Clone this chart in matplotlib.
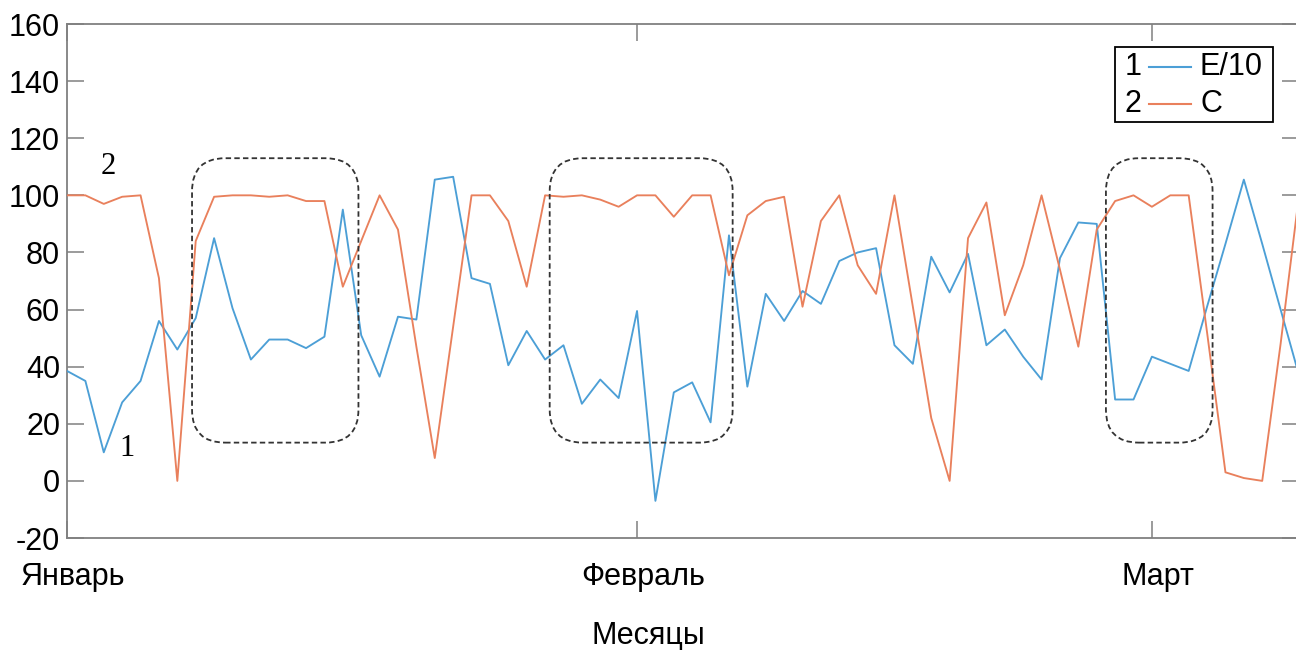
#!/usr/bin/env python
# -*- coding: utf-8 -*-
"""
E/10 and C by day, January to early March
"""

import matplotlib
matplotlib.use("Agg")
import matplotlib.pyplot as plt
import matplotlib.transforms as mtransforms
from matplotlib.patches import FancyBboxPatch, Rectangle
from matplotlib.lines import Line2D
import numpy as np

# daily values, day 0 = 1 January
e_div10 = [38.5, 35, 10, 27.5, 35, 56, 46, 57, 85, 60.5,
           42.5, 49.5, 49.5, 46.5, 50.5, 95, 51, 36.5, 57.5, 56.5,
           105.5, 106.5, 71, 69, 40.5, 52.5, 42.5, 47.5, 27, 35.5,
           29, 59.5, -7, 31, 34.5, 20.5, 86, 33, 65.5, 56,
           66.5, 62, 77, 80, 81.5, 47.5, 41, 78.5, 66, 79.5,
           47.5, 53, 43.5, 35.5, 78, 90.5, 90, 28.5, 28.5, 43.5,
           41, 38.5, 61, 83, 105.5, 83, 60, 37]
c_vals = [100, 100, 97, 99.5, 100, 71, 0, 84, 99.5, 100,
          100, 99.5, 100, 98, 98, 68, 84, 100, 88, 47,
          8, 54, 100, 100, 91, 68, 100, 99.5, 100, 98.5,
          96, 100, 100, 92.5, 100, 100, 72, 93, 98, 99.5,
          61, 91, 100, 75.5, 65.5, 100, 61, 22, 0, 85,
          97.5, 58, 75.5, 100, 74, 47, 88, 98, 100, 96,
          100, 100, 52, 3, 1, 0, 48, 100]
days = np.arange(len(c_vals))

month_ticks = [0, 31, 59]
month_labels = ["Январь", "Февраль", "Март"]

# highlighted periods: (first day, last day, low, high)
periods = [(6.8, 15.85, 13.4, 113), (26.25, 36.2, 13.4, 113), (56.5, 62.3, 13.4, 113)]

BLUE = "#4c9fd6"
ORANGE = "#e9805c"
AXC = "#808080"
SANS = ["Liberation Sans", "DejaVu Sans"]
SERIF = ["Liberation Serif", "DejaVu Serif"]
FS = 22

plt.rcParams["font.family"] = SANS
plt.rcParams["axes.unicode_minus"] = False

fig = plt.figure(figsize=(12.96, 6.5), dpi=100)
W, H = 1296.0, 650.0
ax = fig.add_axes([67 / W, 112 / H, 1232 / W, 514 / H])

ax.plot(days, e_div10, color=BLUE, lw=1.35, zorder=3)
ax.plot(days, c_vals, color=ORANGE, lw=1.35, zorder=3)

ax.set_xlim(0, 67)
ax.set_ylim(-20, 160)
ax.set_yticks(np.arange(-20, 161, 20))
ax.set_xticks(month_ticks)
ax.set_xticklabels(month_labels)

for s in ax.spines.values():
    s.set_color(AXC)
    s.set_linewidth(1.3)
ax.tick_params(direction="in", length=12, width=1.1, color=AXC,
               labelsize=FS, labelcolor="black", top=True, right=True)
ax.tick_params(axis="y", pad=5)
ax.tick_params(axis="x", pad=17)

# month names sit a little right of their ticks
shift = mtransforms.ScaledTranslation(6 / 100, 0, fig.dpi_scale_trans)
for lab in ax.get_xticklabels():
    lab.set_transform(lab.get_transform() + shift)

# x label sits at the figure centre
fig.text(648 / W, 1 - 636 / H, "Месяцы", ha="center", va="center", fontsize=FS)

# rounded dashed boxes round the periods; 1 day = 18.39 px, 1 unit = 2.856 px
for x0, x1, y0, y1 in periods:
    box = FancyBboxPatch((x0, y0), x1 - x0, y1 - y0,
                         boxstyle="round,pad=0,rounding_size=1.8",
                         mutation_aspect=18.39 / 2.856,
                         fill=False, ec="#333333", lw=1.3,
                         ls=(0, (3, 1.8)), zorder=4)
    ax.add_patch(box)

# curve numbers
ax.text(2.23, 110, "2", family=SERIF, fontsize=FS, ha="center", va="center")
ax.text(3.26, 11.5, "1", family=SERIF, fontsize=FS, ha="center", va="center")

# legend drawn by hand: "1 —— E/10", "2 —— C"
def px(x, y):
    return x / W, 1 - y / H

lx0, ly0 = px(1115, 122)
lx1, ly1 = px(1273, 47)
fig.patches.append(Rectangle((lx0, ly0), lx1 - lx0, ly1 - ly0, transform=fig.transFigure,
                             fill=True, fc="white", ec="black", lw=1.3, zorder=10))
for row_y, num, lab, col in [(67, "1", "E/10", BLUE), (104, "2", "C", ORANGE)]:
    fig.text(*px(1133, row_y), num, ha="center", va="center", fontsize=FS, zorder=11)
    xa, ya = px(1149, row_y)
    xb, _ = px(1191, row_y)
    fig.lines.append(Line2D([xa, xb], [ya, ya], transform=fig.transFigure,
                            color=col, lw=1.5, zorder=11))
    fig.text(*px(1200, row_y), lab, ha="left", va="center", fontsize=FS, zorder=11)

fig.savefig("out.png", dpi=100)
